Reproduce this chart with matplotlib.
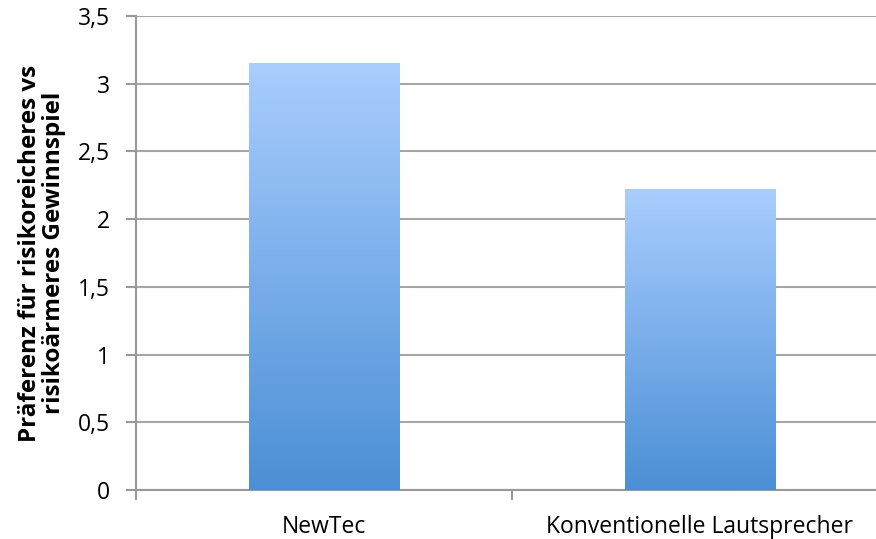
import numpy as np
import matplotlib.pyplot as plt
from matplotlib.colors import LinearSegmentedColormap

categories = ['NewTec', 'Konventionelle Lautsprecher']
values = [3.15, 2.22]
yticks = [0, 0.5, 1, 1.5, 2, 2.5, 3, 3.5]
ytick_labels = ['0', '0,5', '1', '1,5', '2', '2,5', '3', '3,5']

plt.rcParams['font.family'] = ['Open Sans', 'DejaVu Sans']

fig = plt.figure(figsize=(8.76, 5.39), dpi=100)
ax = fig.add_axes([136 / 876, 49 / 539, 752 / 876, 474 / 539])

grad = LinearSegmentedColormap.from_list('bar', ['#4b8fd6', '#a9cdfe'])
x = np.arange(len(categories))
width = 0.4

ax.set_xlim(-0.5, 1.5)
ax.set_ylim(0, 3.5)

for xi, v in zip(x, values):
    bars = ax.bar(xi, v, width=width, color='none', zorder=3)
    img = ax.imshow(np.linspace(0, 1, 256).reshape(-1, 1), cmap=grad, origin='lower',
                    extent=[xi - width / 2, xi + width / 2, 0, v], aspect='auto', zorder=3)
    img.set_clip_path(bars[0])
ax.set_aspect('auto')

ax.set_yticks(yticks)
ax.set_yticklabels(ytick_labels, fontsize=16.5)
ax.set_xticks(x)
ax.set_xticklabels(categories, fontsize=16.5)
ax.set_xticks([-0.5, 0.5, 1.5], minor=True)
ax.tick_params(axis='x', which='major', length=0, pad=18)
ax.tick_params(axis='x', which='minor', length=7, color='#999999', width=1.5)
ax.tick_params(axis='y', length=7, color='#999999', width=1.5, pad=12)

ax.grid(axis='y', color='#a6a6a6', linewidth=1.5, zorder=0)
ax.set_axisbelow(True)
for s in ['top', 'right']:
    ax.spines[s].set_visible(False)
for s in ['left', 'bottom']:
    ax.spines[s].set_color('#999999')
    ax.spines[s].set_linewidth(1.5)

ax.set_ylabel('Präferenz für risikoreicheres vs\nrisikoärmeres Gewinnspiel',
              fontsize=17.5, fontweight='bold', labelpad=8, linespacing=1.0)

fig.savefig('out.png', dpi=100)
